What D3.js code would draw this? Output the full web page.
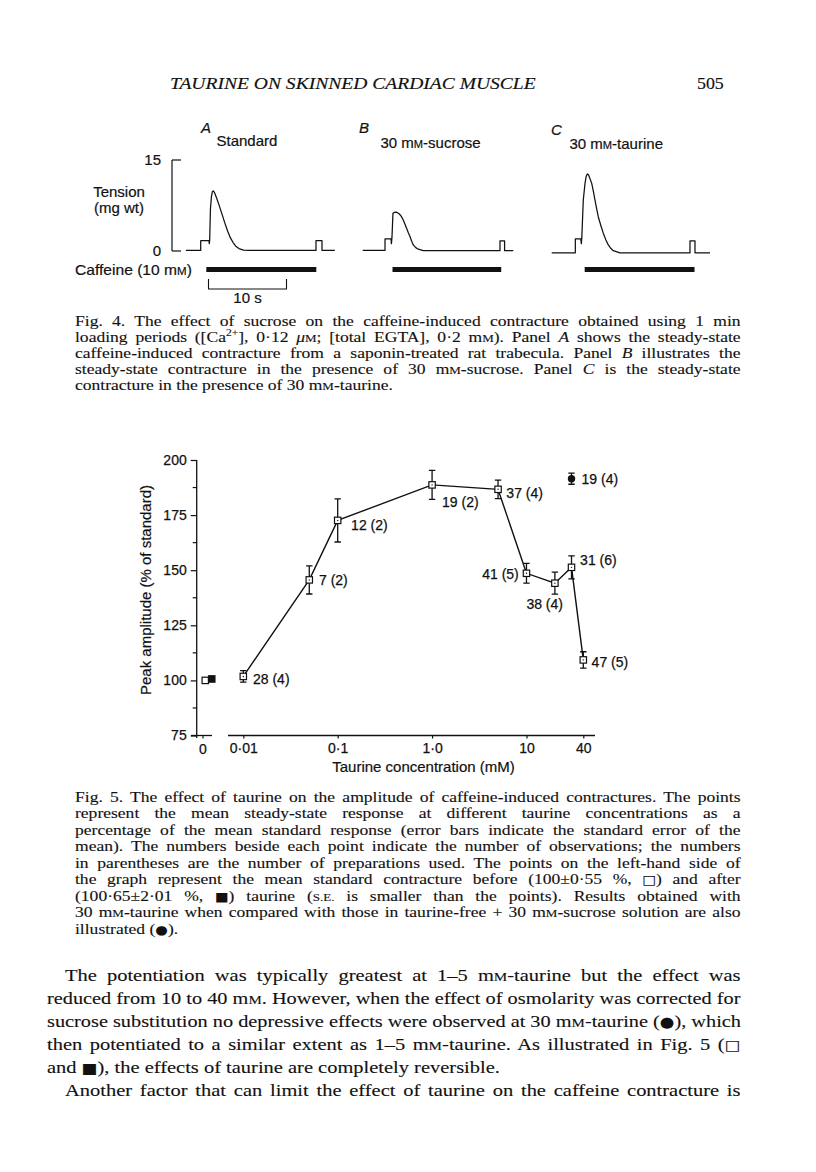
<!DOCTYPE html>
<html><head><meta charset="utf-8">
<script src="https://cdn.jsdelivr.net/npm/d3@7"></script>
<style>
html,body{margin:0;padding:0;background:#fff;}
svg{display:block;}
</style></head><body>
<svg id="page" width="816" height="1172"></svg>
<script>
// ================= DATA =================
// Fig. 5 – peak amplitude (% of standard) vs taurine concentration (mM)
const concentrations = [0.01, 0.05, 0.1, 1, 5, 10, 20, 30, 40];
const meanAmplitude  = [101.8, 145.6, 172.6, 188.7, 186.7, 148.6, 144.1, 151.3, 109.3];
const seAmplitude    = [2.6, 6.4, 9.8, 6.6, 4.2, 4.5, 5.0, 5.2, 3.7];
const nObservations  = [28, 7, 12, 19, 37, 41, 38, 31, 47];
const nPreparations  = [4, 2, 2, 2, 4, 5, 4, 6, 5];
// standard contracture before / after taurine
const controlLabels = ["before", "after"];
const controlMeans  = [100, 100.65];
// 30 mM-taurine compared with taurine-free + 30 mM-sucrose
const correctedConc = [30];
const correctedMean = [191.5];
const correctedSE   = [2.5];
const correctedObs  = [19];
const correctedPrep = [4];
// axes
const yTickValues = [75, 100, 125, 150, 175, 200];
const yMinorTicks = [87.5, 112.5, 137.5, 162.5, 187.5];
const xTickValues = [0.01, 0.1, 1, 10, 40];
const xTickLabels = ["0·01", "0·1", "1·0", "10", "40"];
const xZeroLabel  = "0";

// Fig. 4 – tension traces: time (s) and tension (mg wt)
const panelNames  = ["A", "B", "C"];
const panelTitles = ["Standard", "30 m{M}-sucrose", "30 m{M}-taurine"];
const traceA_t  = [1.1, 3.0, 3.0, 4.06, 4.1, 4.15, 4.25, 4.38, 4.5, 4.62, 4.78, 5.05, 5.4, 5.75, 6.1, 6.45, 6.8, 7.15, 7.5, 7.9, 8.5, 9.2, 17.78, 17.78, 18.55, 18.55, 20.2];
const traceA_mg = [0.1, 0.1, 1.7, 1.7, 1.2, 1.8, 7.0, 9.0, 9.8, 9.9, 9.6, 8.7, 7.4, 6.0, 4.6, 3.3, 2.2, 1.4, 0.8, 0.4, 0.15, 0.1, 0.1, 1.7, 1.7, 0.1, 0.1];
const traceB_t  = [0, 2.86, 2.86, 3.63, 3.68, 3.75, 3.88, 4.05, 4.35, 4.7, 4.95, 5.2, 5.42, 5.64, 5.85, 6.06, 6.28, 6.49, 6.8, 7.13, 7.77, 17.6, 17.6, 18.19, 18.19, 19.3];
const traceB_mg = [0.1, 0.1, 2.0, 2.0, 1.2, 2.2, 6.2, 6.35, 6.4, 6.1, 5.7, 5.1, 4.4, 3.7, 3.0, 2.4, 1.6, 1.0, 0.55, 0.3, 0.05, 0.05, 1.65, 1.65, 0.05, 0.05];
const traceC_t  = [0, 3.03, 3.03, 3.72, 3.8, 3.86, 4.05, 4.27, 4.42, 4.56, 4.7, 4.82, 5.13, 5.35, 5.55, 5.76, 5.97, 6.3, 6.62, 6.95, 7.26, 7.6, 7.9, 8.75, 17.73, 17.73, 18.37, 18.37, 20.3];
const traceC_mg = [-0.3, -0.3, 2.0, 2.0, 1.2, 2.2, 8.4, 11.15, 12.3, 12.7, 12.6, 12.25, 11.15, 9.8, 8.4, 7.0, 5.65, 4.2, 2.9, 1.8, 1.0, 0.4, 0.05, -0.3, -0.3, 1.65, 1.65, -0.3, -0.3];
const caffeineOn  = [3.72, 3.82, 4.23];
const caffeineOff = [17.82, 17.76, 18.31];
const tensionScaleTicks = [0, 15];
const timeScaleBar = [0, 10]; // s

// text
const runningHead = "TAURINE ON SKINNED CARDIAC MUSCLE";
const pageNumber = "505";
const fig4Caption = [
  "Fig. 4. The effect of sucrose on the caffeine-induced contracture obtained using 1 min",
  "loading periods ([Ca^2+^], 0·12 *μ*{M}; [total EGTA], 0·2 m{M}). Panel *A* shows the steady-state",
  "caffeine-induced contracture from a saponin-treated rat trabecula. Panel *B* illustrates the",
  "steady-state contracture in the presence of 30 m{M}-sucrose. Panel *C* is the steady-state",
  "contracture in the presence of 30 m{M}-taurine."
];
const fig5Caption = [
  "Fig. 5. The effect of taurine on the amplitude of caffeine-induced contractures. The points",
  "represent the mean steady-state response at different taurine concentrations as a",
  "percentage of the mean standard response (error bars indicate the standard error of the",
  "mean). The numbers beside each point indicate the number of observations; the numbers",
  "in parentheses are the number of preparations used. The points on the left-hand side of",
  "the graph represent the mean standard contracture before (100±0·55 %, ~□~) and after",
  "(100·65±2·01 %, ~■~) taurine ({s.e.} is smaller than the points). Results obtained with",
  "30 m{M}-taurine when compared with those in taurine-free + 30 m{M}-sucrose solution are also",
  "illustrated (~●~)."
];
const bodyText = [
  "The potentiation was typically greatest at 1–5 m{M}-taurine but the effect was",
  "reduced from 10 to 40 m{M}. However, when the effect of osmolarity was corrected for",
  "sucrose substitution no depressive effects were observed at 30 m{M}-taurine (~●~), which",
  "then potentiated to a similar extent as 1–5 m{M}-taurine. As illustrated in Fig. 5 (~□~",
  "and ~■~), the effects of taurine are completely reversible.",
  "Another factor that can limit the effect of taurine on the caffeine contracture is"
];

// ================= DRAWING =================
const SERIF = "'Liberation Serif','Times New Roman',serif";
const SANS  = "'Liberation Sans',Arial,Helvetica,sans-serif";
const SYM   = "'DejaVu Sans',sans-serif";
const INK = "#111";
const svg = d3.select("#page");
svg.append("rect").attr("width", 816).attr("height", 1172).attr("fill", "#fff");

function parseMarkup(str) {
  const out = [];
  str.split(/(\*[^*]+\*|\{[^}]+\}|\^[^^]+\^|~[^~]+~)/g).forEach(s => {
    if (!s) return;
    if (s[0] === "*") out.push({t: s.slice(1, -1), it: true});
    else if (s[0] === "{") out.push({t: s.slice(1, -1), sc: true});
    else if (s[0] === "^") out.push({t: s.slice(1, -1), sup: true});
    else if (s[0] === "~") out.push({t: s.slice(1, -1), sym: true});
    else out.push({t: s});
  });
  return out;
}
function drawText(g, str, x0, y, opts) {
  const o = Object.assign({size: 14, family: SERIF, justify: false, x1: null, k: 1, anchor: "start", italic: false, heavy: 0}, opts);
  const t = g.append("text").attr("font-family", o.family).attr("font-size", o.size)
    .attr("fill", INK).attr("text-anchor", o.anchor);
  if (o.heavy) t.attr("stroke", INK).attr("stroke-width", o.heavy);
  if (o.italic) t.attr("font-style", "italic");
  parseMarkup(str).forEach(p => {
    const ts = t.append("tspan").text(p.sc ? p.t.toUpperCase() : p.t);
    if (p.it) ts.attr("font-style", "italic");
    if (p.sc) ts.attr("font-size", o.size * 0.74);
    if (p.sup) ts.attr("font-size", o.size * 0.66).attr("baseline-shift", "super");
    if (p.sym) ts.attr("font-family", SYM).attr("font-size", o.size * 0.82);
  });
  let k = o.k, ws = 0;
  if (o.justify && o.x1 != null) {
    const w = t.node().getComputedTextLength();
    const target = o.x1 - x0;
    k = Math.min(o.k, target / w);
    const nsp = (str.match(/ /g) || []).length;
    if (nsp) ws = (target - k * w) / k / nsp;
  }
  t.attr("transform", `translate(${x0},${y}) scale(${k},1)`).attr("word-spacing", ws);
  return t;
}

// ---- running head ----
drawText(svg, runningHead, 170, 88.5, {size: 17, italic: true, justify: true, x1: 536, k: 1.3, heavy: 0.15});
drawText(svg, pageNumber, 697, 88.5, {size: 17, k: 1.05, heavy: 0.15});

// ---- Fig. 4 ----
const F4 = 15;
const fig4 = svg.append("g");
const tScale = d3.scaleLinear().domain([0, 10]).range([0, 78]);
const mgScale = d3.scaleLinear().domain([0, 15]).range([251, 160]);
const panelX = [177.3, 362.7, 551.7];
const traces = [[traceA_t, traceA_mg], [traceB_t, traceB_mg], [traceC_t, traceC_mg]];
const lineGen = d3.line().x(d => tScale(d[0])).y(d => mgScale(d[1]));
traces.forEach((tr, i) => {
  const g = fig4.append("g").attr("transform", `translate(${panelX[i]},0)`);
  const pts = tr[0].map((t, j) => [t, tr[1][j]]);
  g.append("path").attr("d", lineGen(pts)).attr("fill", "none").attr("stroke", INK)
    .attr("stroke-width", 1.25).attr("stroke-linejoin", "round");
  g.append("rect").attr("x", tScale(caffeineOn[i])).attr("width", tScale(caffeineOff[i]) - tScale(caffeineOn[i]))
    .attr("y", 267).attr("height", 5).attr("fill", INK);
});
// panel letters and titles
const letterX = [201, 359, 551], letterY = [133, 133, 135];
const titleX = [216.5, 380.5, 569.5], titleY = [146, 148, 149];
panelNames.forEach((n, i) => {
  drawText(fig4, n, letterX[i], letterY[i], {family: SANS, size: F4, italic: true, heavy: 0.2});
  drawText(fig4, panelTitles[i], titleX[i], titleY[i], {family: SANS, size: F4, heavy: 0.2});
});
// tension scale
const SX = 172;
fig4.append("line").attr("x1", SX).attr("x2", SX).attr("y1", mgScale(15)).attr("y2", mgScale(0))
  .attr("stroke", INK).attr("stroke-width", 1.2);
tensionScaleTicks.forEach(v => {
  fig4.append("line").attr("x1", SX).attr("x2", SX + 9).attr("y1", mgScale(v)).attr("y2", mgScale(v))
    .attr("stroke", INK).attr("stroke-width", 1.2);
  drawText(fig4, String(v), SX - 11, mgScale(v) + 5, {family: SANS, size: F4, anchor: "end", heavy: 0.2});
});
drawText(fig4, "Tension", 119, 196.5, {family: SANS, size: F4, anchor: "middle", heavy: 0.2});
drawText(fig4, "(mg wt)", 119, 213, {family: SANS, size: F4, anchor: "middle", heavy: 0.2});
drawText(fig4, "Caffeine (10 m{M})", 75, 275, {family: SANS, size: F4, k: 1.04, heavy: 0.2});
// time scale bar (placed under panel A)
const sb = fig4.append("g").attr("transform", `translate(${panelX[0] + tScale(4.0)},0)`);
sb.append("path").attr("d", `M${tScale(timeScaleBar[0])},279V289H${tScale(timeScaleBar[1])}V279`)
  .attr("fill", "none").attr("stroke", INK).attr("stroke-width", 1.1);
drawText(sb, "10 s", (tScale(timeScaleBar[0]) + tScale(timeScaleBar[1])) / 2, 303, {family: SANS, size: F4, anchor: "middle", heavy: 0.2});

// ---- Fig. 4 caption ----
const capL = 75, capR = 741;
const CAP = {size: 15, k: 1.17, heavy: 0.12};
fig4Caption.forEach((s, i) => {
  drawText(svg, s, capL, 325.5 + i * 16.2, Object.assign({justify: i < fig4Caption.length - 1, x1: capR}, CAP));
});

// ---- Fig. 5 chart ----
const fig5 = svg.append("g").attr("font-family", SANS);
const y = d3.scaleLinear().domain([75, 200]).range([735.5, 460]);
const x = d3.scaleLog().domain([0.01, 40]).range([243.3, 583.3]);
const xc = d3.scaleBand().domain(controlLabels).range([202, 215]);
const AX = 196.7;
const LBL = 14;

// y axis
const yAxis = d3.axisLeft(y).tickValues(yTickValues).tickSize(6).tickPadding(4).tickFormat(d3.format("d"));
const yg = fig5.append("g").attr("transform", `translate(${AX},0)`).call(yAxis);
yg.select(".domain").remove();
yg.selectAll(".tick line").attr("stroke", INK).attr("stroke-width", 1.2);
yg.selectAll(".tick text").attr("font-size", LBL).attr("font-family", SANS).attr("fill", INK)
  .attr("stroke", INK).attr("stroke-width", 0.25);
yMinorTicks.forEach(v => fig5.append("line").attr("x1", AX - 4).attr("x2", AX).attr("y1", y(v)).attr("y2", y(v))
  .attr("stroke", INK).attr("stroke-width", 1.2));
fig5.append("line").attr("x1", AX).attr("x2", AX).attr("y1", y(200)).attr("y2", y(75) + 2.5)
  .attr("stroke", INK).attr("stroke-width", 1.3);

// x axis (broken)
const XY = y(75);
fig5.append("line").attr("x1", 191).attr("x2", 212).attr("y1", XY).attr("y2", XY).attr("stroke", INK).attr("stroke-width", 1.3);
fig5.append("line").attr("x1", 228).attr("x2", 595).attr("y1", XY).attr("y2", XY).attr("stroke", INK).attr("stroke-width", 1.3);
const xAxis = d3.axisBottom(x).tickValues(xTickValues).tickFormat((d, i) => xTickLabels[i]).tickSize(3).tickPadding(5);
const xg = fig5.append("g").attr("transform", `translate(0,${XY})`).call(xAxis);
xg.select(".domain").remove();
xg.selectAll(".tick line").attr("stroke", INK).attr("stroke-width", 1.2);
xg.selectAll(".tick text").attr("font-size", LBL).attr("font-family", SANS).attr("fill", INK)
  .attr("stroke", INK).attr("stroke-width", 0.25);
fig5.append("line").attr("x1", 203).attr("x2", 203).attr("y1", XY).attr("y2", XY + 3).attr("stroke", INK).attr("stroke-width", 1.2);
drawText(fig5, xZeroLabel, 203, XY + 18.5, {family: SANS, size: LBL, anchor: "middle", heavy: 0.25});

// axis titles
drawText(fig5, "Taurine concentration (mM)", 423.5, 772, {family: SANS, size: 15, anchor: "middle", heavy: 0.2});
fig5.append("text").attr("transform", "translate(151,590) rotate(-90)").attr("text-anchor", "middle")
  .attr("font-size", 15).attr("font-family", SANS).attr("fill", INK).attr("stroke", INK).attr("stroke-width", 0.2)
  .text("Peak amplitude (% of standard)");

// connecting line
const pts = concentrations.map((c, i) => ({c, m: meanAmplitude[i], se: seAmplitude[i], n: nObservations[i], p: nPreparations[i]}));
fig5.append("path").attr("d", d3.line().x(d => x(d.c)).y(d => y(d.m))(pts))
  .attr("fill", "none").attr("stroke", INK).attr("stroke-width", 1.4);

function errBar(cx, m, se) {
  fig5.append("path").attr("d", `M${cx},${y(m - se)}V${y(m + se)}M${cx - 3.2},${y(m + se)}H${cx + 3.2}M${cx - 3.2},${y(m - se)}H${cx + 3.2}`)
    .attr("fill", "none").attr("stroke", INK).attr("stroke-width", 1.3);
}
pts.forEach(d => errBar(x(d.c), d.m, d.se));
// open squares
const sq = 6.4;
fig5.selectAll("rect.pt").data(pts).join("rect").attr("class", "pt")
  .attr("x", d => x(d.c) - sq / 2).attr("y", d => y(d.m) - sq / 2).attr("width", sq).attr("height", sq)
  .attr("fill", "#fff").attr("stroke", INK).attr("stroke-width", 1.2);
fig5.selectAll("circle.dot").data(pts).join("circle").attr("class", "dot")
  .attr("cx", d => x(d.c)).attr("cy", d => y(d.m)).attr("r", 0.7).attr("fill", INK);

// labels "n (prep)"
const labelOffsets = [
  {dx: 9.7, dy: 7.5, a: "start"}, {dx: 9.7, dy: 5.3, a: "start"}, {dx: 13.4, dy: 9.8, a: "start"},
  {dx: 10, dy: 22.3, a: "start"}, {dx: 8.3, dy: 8.6, a: "start"}, {dx: -7.7, dy: 5.9, a: "end"},
  {dx: -28.5, dy: 26, a: "start"}, {dx: 8.6, dy: -2.8, a: "start"}, {dx: 8.3, dy: 7, a: "start"}
];
pts.forEach((d, i) => {
  const o = labelOffsets[i];
  drawText(fig5, `${d.n} (${d.p})`, x(d.c) + o.dx, y(d.m) + o.dy, {family: SANS, size: LBL, anchor: o.a, heavy: 0.25});
});

// control points (before: open, after: filled)
controlMeans.forEach((m, i) => {
  const cx = xc(controlLabels[i]) + xc.bandwidth() / 2;
  fig5.append("rect").attr("x", cx - sq / 2).attr("y", y(m) - sq / 2).attr("width", sq).attr("height", sq)
    .attr("fill", i === 0 ? "#fff" : INK).attr("stroke", INK).attr("stroke-width", 1.2);
});

// sucrose-corrected point (filled circle)
correctedConc.forEach((c, i) => {
  errBar(x(c), correctedMean[i], correctedSE[i]);
  fig5.append("circle").attr("cx", x(c)).attr("cy", y(correctedMean[i])).attr("r", 3.7).attr("fill", INK);
  drawText(fig5, `${correctedObs[i]} (${correctedPrep[i]})`, x(c) + 10, y(correctedMean[i]) + 4.8, {family: SANS, size: LBL, heavy: 0.25});
});

// ---- Fig. 5 caption ----
fig5Caption.forEach((s, i) => {
  drawText(svg, s, capL, 801.5 + i * 16.5, Object.assign({justify: i < fig5Caption.length - 1, x1: capR}, CAP));
});

// ---- body text ----
const bodyL = 47, bodyR = 741;
const indentLines = [0, 5];
bodyText.forEach((s, i) => {
  const x0 = indentLines.includes(i) ? bodyL + 18 : bodyL;
  drawText(svg, s, x0, 981 + i * 23, {size: 17.5, justify: i !== 4, x1: bodyR, k: 1.17, heavy: 0.12});
});
</script>
</body></html>
